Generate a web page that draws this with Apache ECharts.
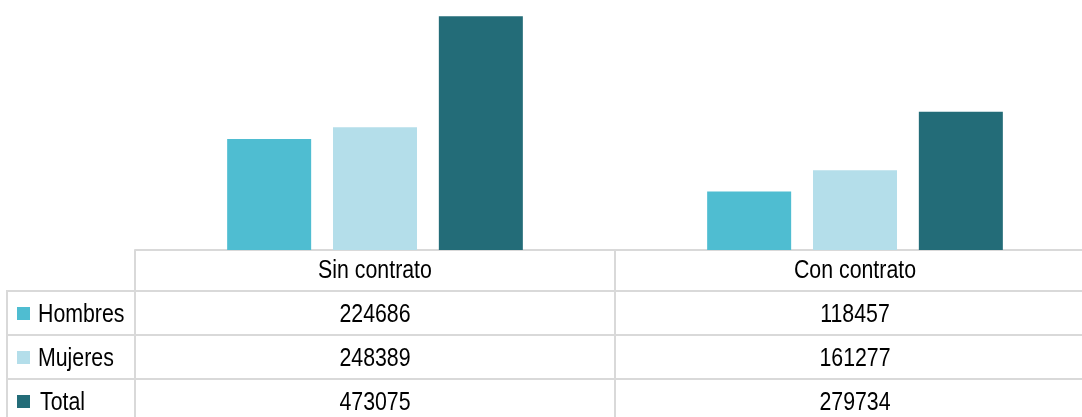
<!DOCTYPE html>
<html>
<head>
<meta charset="utf-8">
<script src="https://cdn.jsdelivr.net/npm/echarts@6/dist/echarts.min.js"></script>
<style>
  html, body { margin: 0; padding: 0; background: #fff; }
  #chart { width: 1082px; height: 417px; }
</style>
</head>
<body>
<div id="chart"></div>
<script>
// data
var categories = ['Sin contrato', 'Con contrato'];
var seriesNames = ['Hombres', 'Mujeres', 'Total'];
var hombres = [224686, 118457];
var mujeres = [248389, 161277];
var total = [473075, 279734];
var colors = ['#4fbdd1', '#b4deea', '#236c78'];

var values = [hombres, mujeres, total];
var font = "'Liberation Sans', Arial, sans-serif";
var lineColor = '#d9d9d9';

var chart = echarts.init(document.getElementById('chart'));

chart.setOption({
  animation: false,
  grid: { left: 135, width: 960, top: 3, height: 247, outerBoundsMode: 'none' },
  xAxis: {
    type: 'category',
    data: categories,
    axisLine: { lineStyle: { color: lineColor, width: 2 } },
    axisTick: { show: false },
    axisLabel: { show: false }
  },
  yAxis: { type: 'value', min: 0, max: 500000, show: false },
  series: values.map(function (v, i) {
    return {
      name: seriesNames[i],
      type: 'bar',
      data: v,
      barWidth: 84,
      barGap: '26%',
      itemStyle: { color: colors[i] }
    };
  })
});

// data table under the bars
var tableTop = 250, headerH = 41, rowH = 44, bottom = 417;
var xs = categories.map(function (c) {
  return chart.convertToPixel({ xAxisIndex: 0 }, c);
});
var band = xs[1] - xs[0];
var gridLeft = xs[0] - band / 2;

var els = [];
function line(x1, y1, x2, y2) {
  els.push({ type: 'line', shape: { x1: x1, y1: y1, x2: x2, y2: y2 },
    style: { stroke: lineColor, lineWidth: 2 }, silent: true });
}
// narrow text: the original uses a condensed face, so squeeze Liberation Sans
function text(str, x, y, align) {
  els.push({ type: 'text', x: x, y: y, scaleX: 0.82, silent: true,
    style: { text: str, font: '26px ' + font, fill: '#000',
      textAlign: align, textVerticalAlign: 'middle' } });
}

// vertical lines
line(gridLeft, tableTop, gridLeft, bottom);
xs.forEach(function (x) { line(x + band / 2, tableTop, x + band / 2, bottom); });
line(7, tableTop + headerH, 7, bottom);

// header
categories.forEach(function (c, j) { text(c, xs[j], tableTop + headerH / 2, 'center'); });

// rows
seriesNames.forEach(function (name, i) {
  var top = tableTop + headerH + i * rowH;
  line(6, top, 1082, top);
  var cy = top + rowH / 2 + 2;
  els.push({ type: 'rect', shape: { x: 17, y: cy - 8, width: 13, height: 13 },
    style: { fill: colors[i] }, silent: true });
  text(name, i === 2 ? 40 : 38, cy, 'left');
  values[i].forEach(function (v, j) { text(String(v), xs[j], cy, 'center'); });
});

chart.setOption({ graphic: { elements: els } });
</script>
</body>
</html>
